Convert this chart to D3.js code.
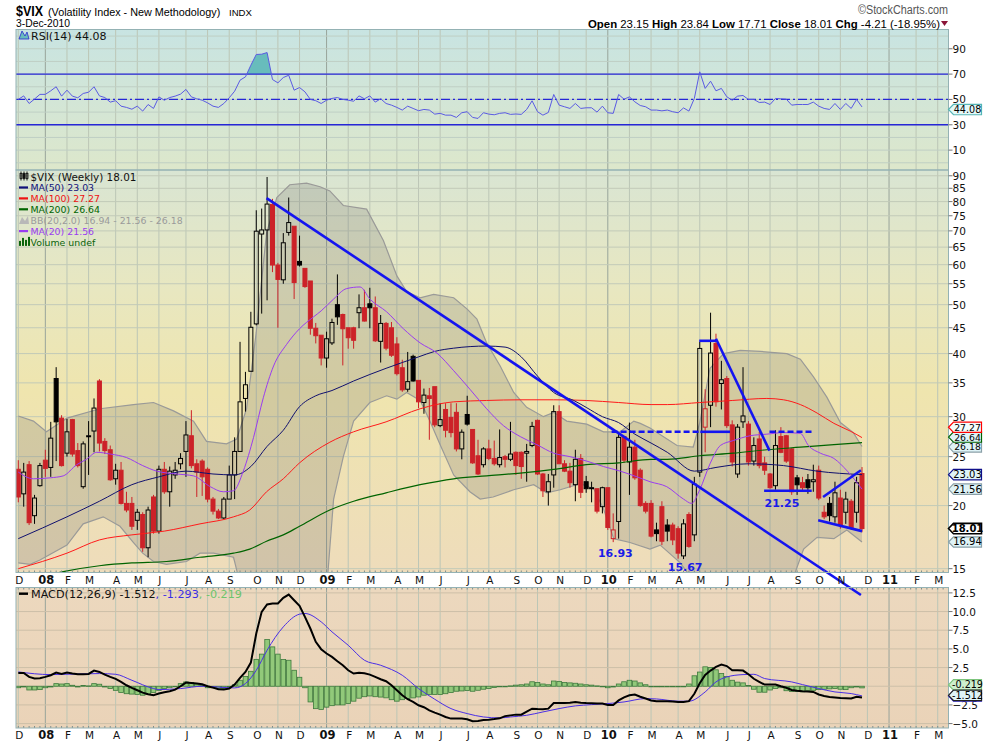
<!DOCTYPE html>
<html>
<head>
<meta charset="utf-8">
<script src="https://cdn.jsdelivr.net/npm/d3@7"></script>
<style>
  body { margin: 0; background: #fff; }
  svg text { font-family: "DejaVu Sans", Verdana, sans-serif; }
</style>
</head>
<body>
<svg id="chart" width="990" height="744"></svg>
<script>
// weekly $VIX bars, week of 3-Dec-2007 .. week of 29-Nov-2010 : [open, high, low, close]
const ohlc = [
  [23.6,24.6,20.3,20.8],[21.1,24.3,19.9,23.3],[24.1,24.5,18.3,18.5],[19.1,21.0,18.4,20.7],[21.9,24.3,21.8,24.0],
  [24.6,25.8,22.8,23.7],[23.8,29.3,22.8,27.2],[35.7,37.6,24.5,29.3],[29.8,30.2,23.9,24.0],[25.4,29.7,25.0,28.0],
  [29.6,29.7,25.0,25.3],[25.7,26.6,23.8,24.0],[21.8,26.8,21.6,26.5],[27.4,29.4,23.0,27.5],[28.1,32.6,25.5,31.2],
  [35.3,35.6,25.6,26.6],[26.8,27.2,25.3,25.7],[25.8,26.3,22.4,22.5],[22.6,24.2,22.0,23.5],[23.5,24.4,20.1,20.2],
  [20.2,21.3,19.4,19.6],[20.2,20.8,17.9,18.2],[18.7,19.7,17.9,19.4],[19.2,19.4,16.2,16.5],[16.5,19.9,15.8,19.6],
  [20.8,21.0,17.6,17.8],[17.8,24.0,17.6,23.6],[23.6,24.4,21.1,21.3],[21.3,23.9,19.9,23.4],[23.0,24.4,22.6,23.5],
  [24.2,25.4,23.6,24.8],[25.6,29.4,22.8,27.6],[27.5,30.9,23.7,24.0],[24.2,24.7,20.8,23.3],[24.5,24.7,20.9,22.8],
  [23.6,23.8,20.3,20.6],[20.6,20.8,19.2,19.5],[19.5,19.7,18.8,18.9],[18.9,20.8,18.8,20.6],[20.6,24.0,20.6,23.0],
  [23.0,27.3,20.6,25.6],[25.6,42.2,25.6,32.1],[32.6,36.8,30.7,34.7],[36.9,48.4,36.9,45.1],[45.8,76.9,45.5,69.9],
  [69.0,77.5,48.0,70.3],[70.3,89.5,51.0,79.1],[79.0,81.0,58.0,59.9],[59.9,60.5,45.0,56.1],[56.0,69.3,55.0,66.3],
  [69.5,81.5,68.5,72.7],[71.5,71.5,51.3,55.3],[60.9,68.5,59.5,59.9],[59.0,59.0,54.0,54.3],[55.7,55.7,43.6,44.9],
  [44.9,46.0,41.9,43.4],[43.5,43.5,37.9,39.2],[39.2,44.2,37.5,42.8],[42.0,46.9,41.6,46.1],[50.0,57.4,45.6,47.3],
  [47.8,48.0,37.9,44.8],[45.0,45.0,40.9,43.0],[45.0,45.2,40.9,42.5],[48.2,52.4,44.9,49.3],[49.3,53.5,46.3,46.4],
  [50.2,54.0,44.9,49.3],[49.3,51.9,42.2,42.4],[42.3,47.7,38.4,45.9],[45.9,46.2,40.6,41.0],[45.0,46.2,39.4,39.7],
  [41.8,43.1,36.2,36.5],[37.5,38.9,33.6,33.9],[34.0,40.3,33.6,35.2],[39.5,39.8,35.2,35.3],[35.4,35.4,31.2,32.1],
  [32.0,34.1,30.4,33.1],[33.0,34.2,27.0,32.6],[34.4,34.4,28.6,28.9],[28.8,31.9,28.6,29.6],[31.0,31.9,27.3,28.2],
  [29.9,31.9,27.3,27.9],[30.6,31.9,25.6,25.9],[25.9,28.3,24.7,27.95],[30.3,33.0,28.8,29.0],[28.3,28.3,24.2,24.3],
  [25.1,27.0,23.0,23.1],[24.1,26.1,23.8,25.9],[25.9,27.0,24.6,24.8],[24.8,26.9,24.0,24.2],[24.1,28.3,23.8,24.9],
  [25.0,25.2,23.8,24.7],[24.7,29.3,24.5,25.3],[25.5,25.6,23.0,24.0],[25.5,25.6,22.6,23.9],[25.4,26.5,22.3,25.6],
  [26.3,29.3,26.1,28.7],[29.5,29.6,23.0,23.1],[23.1,23.2,20.8,21.4],[21.3,23.1,20.0,22.3],[23.0,31.6,21.7,30.7],
  [30.7,31.6,24.2,24.2],[24.2,24.6,23.3,23.4],[23.4,24.3,21.7,22.2],[22.0,25.8,20.4,24.7],[24.8,25.3,20.7,21.25],
  [22.3,22.9,21.2,21.6],[21.6,22.3,20.3,21.7],[21.6,21.6,19.3,19.5],[19.9,21.8,19.3,21.7],[21.7,21.7,17.9,18.1],
  [17.2,19.3,16.93,17.9],[18.6,27.9,17.2,27.3],[27.4,27.4,24.3,24.6],[24.4,29.2,21.0,26.1],[26.1,27.0,22.5,22.7],
  [23.5,23.7,19.9,20.0],[20.2,20.4,19.3,19.5],[20.2,20.5,17.3,17.4],[17.9,18.5,17.0,17.6],[19.9,20.4,16.7,17.0],
  [18.3,18.8,17.0,17.8],[18.3,18.5,16.7,17.1],[18.0,18.2,15.7,16.1],[15.9,18.8,15.67,18.4],[19.2,19.4,16.5,16.6],
  [17.5,22.8,17.0,22.05],[23.3,42.2,22.8,40.95],[28.6,34.0,25.5,31.1],[31.6,48.2,28.6,40.1],[41.9,43.8,31.4,32.1],
  [34.9,38.7,31.0,35.5],[35.7,36.1,28.5,28.8],[28.9,29.5,23.9,24.4],[23.1,29.0,22.7,28.6],[29.3,37.6,28.5,30.1],
  [29.0,29.4,24.0,24.4],[24.5,27.3,24.0,26.3],[27.1,28.0,23.7,24.0],[24.3,25.0,23.0,23.5],[23.1,23.2,21.6,21.7],
  [21.9,28.2,21.5,26.3],[27.4,28.6,25.4,25.5],[27.5,27.6,24.3,24.5],[25.9,26.0,21.0,21.3],[22.7,23.0,21.0,21.99],
  [22.2,22.8,21.3,21.7],[22.5,23.1,21.1,21.7],[22.3,24.1,21.3,22.5],[23.5,24.0,20.5,20.7],[19.4,20.0,18.8,19.0],
  [20.2,20.8,18.6,19.1],[19.0,22.3,18.5,21.2],[20.7,21.5,18.0,18.3],[19.4,21.3,18.4,20.6],[20.4,20.6,17.9,18.04],
  [19.4,22.8,18.5,22.2],[23.15,23.84,17.71,18.01]
];

// overlays: [week index, value]
const ma20 = [[0,23.3],[2.8,22.6],[5.9,22.7],[8.3,22.9],[10.8,24.1],[12.6,24.7],[14.5,25.5],[17,25.3],[20,24.9],[23,24.0],[25.6,23.4],[29.3,23.1],[32.4,22.9],[35.5,21.8],[37.9,21.3],[39.8,21.4],[41.6,23.4],[43.5,27.3],[45.3,32.7],[47.2,37.8],[49.6,41.7],[52,44.8],[54.6,47.3],[56,48.6],[58.3,51.3],[60.7,53.8],[63.2,54.2],[65,51.3],[68.1,48.4],[71.2,44.8],[74.3,42.0],[77.4,40.1],[80.5,37.0],[83.5,34.0],[86.6,31.1],[89.7,28.8],[92.8,27.4],[95.9,26.4],[99,25.4],[102,25.0],[105.1,24.5],[108.2,23.9],[111.3,23.4],[114.4,22.8],[116.8,22.3],[119.9,21.8],[123,20.6],[124.5,20.2],[126,21.5],[127.9,24.2],[129.8,26.3],[132.2,26.9],[135.3,27.5],[138.4,27.7],[141.5,27.9],[144.6,27.8],[146.1,26.3],[148.3,25.4],[150.8,24.8],[153.3,23.4],[156,21.56]];
const ma50 = [[0,17.2],[9,19.0],[15,20.4],[21,22.0],[26,22.8],[31,23.4],[36,23.1],[40,23.0],[43,23.9],[46,26.2],[49,28.2],[52,31.4],[55,33.0],[58,33.8],[62,35.3],[68,37.4],[74,39.4],[77,40.4],[80.5,41.0],[86.6,41.4],[90,41.2],[93,39.4],[96,36.1],[99,33.5],[102.7,32.3],[105,31.3],[108,30.0],[111,29.2],[114,27.7],[117,26.6],[120,25.5],[125,23.4],[129,23.8],[135,24.2],[141.5,24.0],[147.7,23.4],[156,23.03]];
const ma100 = [[0,15.0],[9,16.1],[15,17.1],[21,17.5],[27,17.8],[33.6,18.4],[39.8,19.0],[42.8,19.6],[45.9,21.3],[49,22.6],[52,24.3],[57.6,26.7],[62,28.0],[68,29.3],[74.3,31.1],[80.5,32.1],[86.6,32.3],[92.8,32.4],[99,32.4],[105,32.3],[111,32.0],[117,31.7],[120,31.7],[126,32.0],[132,32.3],[138.4,32.6],[141.5,32.4],[144.6,31.7],[147.7,30.5],[150.8,29.1],[153.8,28.1],[156,27.27]];
const ma200 = [[0,14.1],[8.3,14.8],[15,15.2],[21,15.4],[27.4,15.5],[33.6,15.8],[39.8,16.1],[42.8,16.4],[45.9,17.0],[49,17.5],[52,18.2],[57.6,19.6],[62,20.4],[68,21.2],[74.3,22.0],[80.5,22.6],[86.6,22.9],[92.8,23.2],[99,23.6],[105,24.1],[111,24.3],[117,24.7],[120,24.7],[126,25.1],[132.2,25.4],[138.4,25.8],[144.6,26.1],[150.8,26.4],[156,26.64]];
const bbUpper = [[0,30.1],[2.8,29.4],[5.2,28.0],[9,29.8],[15.1,31.1],[21.3,31.7],[25,32.0],[28.7,30.8],[32.4,29.4],[34.8,26.8],[38.5,26.5],[40.4,27.1],[42.2,31.1],[44,44.1],[45.9,69.3],[47.8,81.5],[50.2,86.4],[53.3,87.0],[55.8,85.6],[57.6,84.0],[60.1,78.6],[64.4,77.3],[67.5,67.0],[70,57.0],[71.8,53.1],[74.3,51.6],[76.8,52.4],[80.5,51.6],[83,49.0],[84.8,46.8],[86.6,42.0],[89.1,37.8],[91.6,33.5],[94,31.3],[97.1,30.0],[99,30.6],[101.4,29.4],[105.1,29.0],[108.2,28.0],[111.3,28.0],[113.8,29.4],[115,29.1],[116.8,28.5],[121.8,26.3],[124.8,26.1],[126,29.2],[127.9,37.4],[130.4,40.0],[133.5,40.6],[137.2,40.4],[142.1,40.0],[144.6,39.0],[147,36.0],[149.5,32.8],[152,29.2],[154.4,27.9],[156,26.18]];
const bbLower = [[0,15.4],[2.2,15.3],[4,15.6],[9,16.7],[12,18.4],[15.7,19.0],[18.8,18.2],[21.3,16.9],[23,16.1],[25,15.5],[27.4,15.3],[31.1,15.5],[33.6,16.1],[36.1,16.1],[39.8,15.8],[41,14.0],[42,10],[56.5,10],[57.2,14.5],[58.3,20.6],[60.1,25.0],[62,29.4],[65,32.0],[68.1,33.0],[70,32.5],[71.8,33.5],[74.3,32.3],[76.1,29.4],[78,26.4],[80.5,23.0],[83.5,21.3],[85.4,20.6],[87.8,20.8],[91.6,21.5],[95.3,22.0],[97.7,21.2],[100.2,21.5],[103.9,22.1],[106.4,21.6],[108.2,19.7],[110.1,17.2],[113.1,16.9],[116.8,16.4],[118.7,16.7],[122.4,15.4],[124.2,14.5],[125,10],[142,10],[143.3,14.4],[145.2,16.4],[147.7,17.3],[150.8,17.2],[153.2,17.9],[156,16.94]];

// RSI(14), one value per week
const rsi = [
  50,52.8,46.8,50.3,54,54,56.8,60,52.6,57.3, 52.6,51.3,54.7,55.7,60,52.8,51.5,47.9,49,44.7,
  43.7,42.3,44.7,40.8,46,42.9,52,49.4,51.5,52.6, 54.2,57.9,52,50.5,49.4,47.3,44.7,43.7,46.8,51.3,
  56.5,65.2,67.8,77,85.5,85.7,87,65.7,63.1,67.3, 69.1,57.3,59.4,56,50,49,46.8,49.4,50.8,51.5,
  50,49.4,48.6,52.8,50.5,52.8,47.9,50.5,46.8,45.5, 43.7,41.6,44.7,42.9,41.1,42.1,41.6,38.4,39,37.6,
  37.6,35.8,39.5,40.3,35.8,35,39.5,38.4,37.9,39, 39.5,38.2,38.5,38.2,42.1,48.9,40.3,37.6,39.7,53.9,
  45.5,44.2,42.9,46.8,42.9,43.4,43.4,40,44.7,39.5, 39,53.9,50.2,52,48.1,45.2,44.2,41.6,41.6,41,
  41.6,40.3,39.5,43.3,40.8,50.8,71.8,58.7,64.4,56.8, 58.7,52.1,49.4,52.6,53.1,50,50,47.6,47.9,46,
  50.8,50.5,50.2,45.5,46,46,46,47.9,44.7,42.9, 42.1,46.8,42.1,46.8,42.9,50,44.08
];

// MACD(12,26,9) line, one value per week
const macd = [
  1.79,1.79,1.25,1.03,1.07,1.25,1.47,1.83,1.65,1.83, 1.7,1.6,1.61,1.65,2.1,1.92,1.56,1.25,0.98,0.58,
  0.13,-0.22,-0.54,-0.85,-1.07,-1.21,-0.98,-0.8,-0.67,-0.45, 0,0.49,0.45,0.36,0.27,0,-0.18,-0.4,-0.45,-0.31,
  0.22,1.12,1.92,3.17,7.06,9.96,10.94,11.08,11.08,11.84, 12.28,11.52,10.76,9.29,7.73,5.94,4.96,4.38,3.93,3.35,
  2.81,2.14,1.7,1.79,1.74,1.56,1.25,0.94,0.67,0.13, -0.54,-1.21,-1.74,-2.1,-2.55,-2.81,-3.22,-3.53,-3.8,-4.11,
  -4.33,-4.33,-4.33,-4.42,-4.69,-4.64,-4.51,-4.47,-4.4,-4.3, -4.0,-3.9,-3.8,-3.8,-3.4,-3.0,-3.05,-3.08,-3.0,-2.25,
  -2.23,-2.23,-2.2,-2.1,-2.2,-2.25,-2.28,-2.3,-2.3,-2.5, -2.5,-1.9,-1.5,-1.2,-1.1,-1.4,-1.65,-1.9,-2.0,-2.0,
  -2.0,-2.05,-2.1,-2.1,-2.0,-1.0,0.4,1.5,2.1,2.6, 2.9,2.7,2.15,2.15,2.1,1.6,1.0,0.6,0.22,0.22,
  0.22,0,-0.2,-0.5,-0.6,-0.67,-0.7,-0.76,-1.1,-1.3, -1.43,-1.5,-1.56,-1.6,-1.65,-1.4,-1.512
];
// signal line, read as [week index, value]
const macdSignal = [[0,1.92],[6,1.56],[15,1.7],[18,1.6],[21,0.8],[25,-0.31],[26,-0.45],[30,-0.31],[34,0],[40,-0.22],[42,0.36],[44,2.14],[46,4.82],[49,7.95],[52,9.65],[53,9.74],[56,8.62],[58,7.28],[61,5.49],[64,3.48],[67,2.81],[71,1.47],[74,-0.31],[77,-1.74],[80,-2.99],[83,-3.66],[86,-4.11],[89,-4.24],[91,-4.11],[94,-3.89],[97,-3.44],[100,-2.99],[103,-2.63],[106,-2.46],[109,-2.32],[112,-2.1],[116,-1.65],[118,-1.7],[122,-2.0],[124,-2.0],[127,-0.76],[129,0.58],[131,1.25],[134,1.56],[136,1.6],[138,1.03],[143,0.58],[145,0.22],[148,-0.31],[151,-0.76],[154,-0.98],[156,-1.293]];
// histogram, one value per week
const macdHist = [
  -0.2,-0.1,-0.5,-0.5,-0.45,-0.2,-0.1,0.35,0.3,0.35, 0.13,-0.1,0.1,0.05,0.35,0.27,-0.1,-0.3,-0.55,-0.85,
  -1.0,-1.05,-1.1,-1.2,-1.1,-0.85,-0.55,-0.3,-0.2,0, 0.35,0.58,0.5,0.3,0.13,-0.2,-0.2,-0.3,-0.3,-0.1,
  0.2,0.8,1.3,2.0,3.6,4.3,6.25,5.27,4.3,3.57, 3.48,2.14,1.2,-0.2,-2.1,-3.0,-3.1,-2.8,-2.6,-2.5,
  -2.5,-2.3,-2.0,-1.6,-1.4,-1.3,-1.4,-1.45,-1.55,-1.8, -2.0,-1.8,-1.65,-1.56,-1.43,-1.2,-1.1,-1.1,-1.1,-1.0,
  -0.85,-0.67,-0.63,-0.58,-0.67,-0.54,-0.4,-0.31,-0.18,0, -0.05,0.05,0.15,0.2,0.3,0.6,0.5,0.3,0.2,0.7,
  0.65,0.5,0.45,0.4,0.3,0.2,0.15,0.05,0,-0.2, -0.1,0.3,0.6,0.8,0.7,0.45,0.2,0,-0.05,-0.05,
  0,-0.05,-0.05,-0.05,0.3,1.4,1.9,2.6,2.5,2.2, 1.7,1.3,0.8,0.55,0.45,0.1,-0.4,-0.8,-0.8,-0.5,
  -0.3,-0.2,-0.6,-0.7,-0.7,-0.75,-0.6,-0.55,-0.45,-0.4, -0.35,-0.3,-0.4,-0.45,-0.2,-0.1,-0.219
];

// hand-drawn annotations: [week index, price]
const trendLines = [
  { pts: [[45.9, 81.3], [155.8, 13.3]], dash: false },
  { pts: [[109.7, 28.0], [126.1, 28.0]], dash: true },
  { pts: [[126.1, 28.0], [131.6, 28.0]], dash: false },
  { pts: [[125.9, 42.4], [129, 42.4]], dash: false },
  { pts: [[129, 42.8], [138.9, 25.7]], dash: false },
  { pts: [[138.9, 28.0], [146.7, 28.0]], dash: true },
  { pts: [[137.9, 21.4], [146.7, 21.4]], dash: false },
  { pts: [[148.8, 20.8], [155.8, 23.5]], dash: false },
  { pts: [[147.9, 18.7], [156, 17.8]], dash: false }
];
const notes = [
  { i: 110.4, v: 16.93, text: '16.93', dy: 15 },
  { i: 123.3, v: 15.67, text: '15.67', dy: 12 },
  { i: 141.2, v: 21.25, text: '21.25', dy: 15 }
];

const monthLabels = ['D','08','F','M','A','M','J','J','A','S','O','N',
  'D','09','F','M','A','M','J','J','A','S','O','N',
  'D','10','F','M','A','M','J','J','A','S','O','N',
  'D','11','F','M'];
const priceTicks = [15,20,25,30,35,40,45,50,55,60,65,70,75,80,85,90];
const rsiTicks = [10,30,50,70,90];
const macdTicks = [-5,-2.5,2.5,5,7.5,10,12.5];

// ---------------------------------------------------------------
const svg = d3.select('#chart');
const defs = svg.append('defs');
const red = '#cc2228';

const L = 16, R = 948.5;
const rsiTop = 29.5, mainTop = 170, mainBot = 572.5, macdTop = 587.5, macdBot = 728;

const xs = d3.scaleLinear().domain([0, 156]).range([18.3, 862]);
const yP = d3.scaleLog().domain([14.74, 92.4]).range([mainBot, mainTop]);
const yR = d3.scaleLinear().domain([-5.7, 105.2]).range([mainTop, rsiTop]);
const yM = d3.scaleLinear().domain([-5.59, 13.22]).range([macdBot, macdTop]);

function grad(id, stops) {
  const g = defs.append('linearGradient').attr('id', id)
    .attr('x1', 0).attr('y1', 0).attr('x2', 0).attr('y2', 1);
  stops.forEach(s => g.append('stop').attr('offset', s[0]).attr('stop-color', s[1]));
}
grad('gRsi', [[0, '#c8e4e2'], [1, '#dde7cb']]);
grad('gMain', [[0, '#d9e5d3'], [0.3, '#e8e7c0'], [0.55, '#efe5ae'], [1, '#eedcbb']]);
grad('gMacd', [[0, '#ecd8be'], [1, '#ead3b8']]);

function clip(id, y0, y1) {
  defs.append('clipPath').attr('id', id).append('rect')
    .attr('x', L).attr('y', y0).attr('width', R - L).attr('height', y1 - y0);
}
clip('cRsi', rsiTop, mainTop);
clip('cMain', mainTop, mainBot);
clip('cMacd', macdTop, macdBot);
clip('cRsiHi', rsiTop, yR(70));

// panel backgrounds
svg.append('rect').attr('x', L).attr('y', rsiTop).attr('width', R - L).attr('height', mainTop - rsiTop).attr('fill', 'url(#gRsi)');
svg.append('rect').attr('x', L).attr('y', mainTop).attr('width', R - L).attr('height', mainBot - mainTop).attr('fill', 'url(#gMain)');
svg.append('rect').attr('x', L).attr('y', macdTop).attr('width', R - L).attr('height', macdBot - macdTop).attr('fill', 'url(#gMacd)');

// month ticks: first weekly bar whose Monday falls in the month
const startMonday = new Date(2007, 11, 3);
const monthTicks = monthLabels.map((lab, k) => {
  const first = new Date(2007, 11 + k, 1);
  const mon = d3.timeMonday.ceil(first);
  const idx = Math.round((mon - startMonday) / (7 * 864e5));
  return { idx, lab, year: first.getMonth() === 0 };
});

// grid
const grid = svg.append('g');
monthTicks.forEach(t => {
  const x = xs(t.idx);
  [[rsiTop, mainTop], [mainTop, mainBot], [macdTop, macdBot]].forEach(([a, b]) => {
    grid.append('line').attr('x1', x).attr('x2', x).attr('y1', a).attr('y2', b)
      .attr('stroke', t.year ? '#98a49a' : '#bcc6b6').attr('stroke-width', 1);
  });
});
priceTicks.forEach(v => grid.append('line').attr('x1', L).attr('x2', R).attr('y1', yP(v)).attr('y2', yP(v)).attr('stroke', '#c2cab8'));
d3.range(0, 101, 10).forEach(v => grid.append('line').attr('x1', L).attr('x2', R).attr('y1', yR(v)).attr('y2', yR(v)).attr('stroke', '#bfcfc4'));
d3.range(-5, 13, 2.5).forEach(v => grid.append('line').attr('x1', L).attr('x2', R).attr('y1', yM(v)).attr('y2', yM(v)).attr('stroke', '#cdbfa8'));

// ---------------- RSI panel
const rsiG = svg.append('g').attr('clip-path', 'url(#cRsi)');
rsiG.append('path').datum(rsi).attr('clip-path', 'url(#cRsiHi)')
  .attr('d', d3.area().x((d, i) => xs(i)).y0(yR(70)).y1(d => yR(d)))
  .attr('fill', '#68bcbc');
[70, 30].forEach(v => rsiG.append('line').attr('x1', L).attr('x2', R).attr('y1', yR(v)).attr('y2', yR(v))
  .attr('stroke', '#2626d6').attr('stroke-width', 1.3));
rsiG.append('line').attr('x1', L).attr('x2', R).attr('y1', yR(50)).attr('y2', yR(50))
  .attr('stroke', '#2626d6').attr('stroke-width', 1.2).attr('stroke-dasharray', '9,3,2,3');
rsiG.append('path').datum(rsi).attr('d', d3.line().x((d, i) => xs(i)).y(d => yR(d)))
  .attr('fill', 'none').attr('stroke', '#5a5ae2').attr('stroke-width', 1);

// ---------------- price panel
const mainG = svg.append('g').attr('clip-path', 'url(#cMain)');
const lineK = d3.line().x(d => xs(d[0])).y(d => yP(d[1])).curve(d3.curveMonotoneX);

// Bollinger band fill
const bandPts = d3.range(0, 156.01, 0.5);
const interp = arr => i => {
  let k = 0;
  while (k < arr.length - 2 && arr[k + 1][0] < i) k++;
  const a = arr[k], b = arr[k + 1];
  const t = Math.max(0, Math.min(1, (i - a[0]) / (b[0] - a[0])));
  return a[1] + (b[1] - a[1]) * t;
};
const upF = interp(bbUpper), loF = interp(bbLower);
mainG.append('path').datum(bandPts)
  .attr('d', d3.area().x(i => xs(i)).y0(i => yP(loF(i))).y1(i => yP(upF(i))))
  .attr('fill', 'rgba(110,110,110,0.22)');
[bbUpper, bbLower].forEach(arr => mainG.append('path').datum(arr).attr('d', d3.line().x(d => xs(d[0])).y(d => yP(d[1])))
  .attr('fill', 'none').attr('stroke', '#9a9a98').attr('stroke-width', 1.2));

// candles
const cg = mainG.append('g');
ohlc.forEach((d, i) => {
  const [o, h, l, c] = d;
  const prev = i > 0 ? ohlc[i - 1][3] : o;
  const col = c >= prev ? '#000' : red;
  const hollow = c >= o;
  const x = xs(i);
  const top = yP(Math.max(o, c)), bot = yP(Math.min(o, c));
  cg.append('line').attr('x1', x).attr('x2', x).attr('y1', yP(h)).attr('y2', top).attr('stroke', col).attr('stroke-width', 1);
  cg.append('line').attr('x1', x).attr('x2', x).attr('y1', bot).attr('y2', yP(l)).attr('stroke', col).attr('stroke-width', 1);
  cg.append('rect').attr('x', x - 2).attr('y', top).attr('width', 4).attr('height', Math.max(1, bot - top))
    .attr('fill', hollow ? 'none' : col).attr('stroke', col).attr('stroke-width', 1);
});

// moving averages
[[ma200, '#006400', 1.2], [ma100, '#ff1a1a', 1], [ma50, '#10106e', 1], [ma20, '#9a3cf0', 1]].forEach(([arr, col, w]) => {
  mainG.append('path').datum(arr).attr('d', lineK).attr('fill', 'none').attr('stroke', col).attr('stroke-width', w);
});

// trend lines (not clipped: the long one runs into the axis row)
const tl = svg.append('g');
trendLines.forEach(t => {
  tl.append('line')
    .attr('x1', xs(t.pts[0][0])).attr('y1', yP(t.pts[0][1]))
    .attr('x2', xs(t.pts[1][0])).attr('y2', yP(t.pts[1][1]))
    .attr('stroke', '#1414f0').attr('stroke-width', 2.6)
    .attr('stroke-dasharray', t.dash ? '6,3' : null);
});
notes.forEach(n => tl.append('text').attr('x', xs(n.i)).attr('y', yP(n.v) + n.dy)
  .attr('text-anchor', 'middle').attr('font-size', 11).attr('font-weight', 'bold').attr('fill', '#1a1ae8').text(n.text));

// ---------------- MACD panel
const macdG = svg.append('g').attr('clip-path', 'url(#cMacd)');
macdG.selectAll('rect.h').data(macdHist).enter().append('rect')
  .attr('x', (d, i) => xs(i) - 2.3).attr('width', 4.6)
  .attr('y', d => yM(Math.max(0, d))).attr('height', d => Math.max(0.6, Math.abs(yM(d) - yM(0))))
  .attr('fill', '#92c97a').attr('stroke', '#3d7a3d').attr('stroke-width', 0.8);
macdG.append('path').datum(macdSignal).attr('d', d3.line().x(d => xs(d[0])).y(d => yM(d[1])).curve(d3.curveMonotoneX))
  .attr('fill', 'none').attr('stroke', '#4a2ee6').attr('stroke-width', 1);
macdG.append('path').datum(macd).attr('d', d3.line().x((d, i) => xs(i)).y(d => yM(d)))
  .attr('fill', 'none').attr('stroke', '#000').attr('stroke-width', 2);

// weekly tick dots along panel edges
const wk = svg.append('g');
d3.range(0, 181).forEach(i => {
  const x = xs(i);
  if (x < L || x > R) return;
  wk.append('line').attr('x1', x).attr('x2', x).attr('y1', mainBot - 2).attr('y2', mainBot).attr('stroke', '#7d8c8c');
  wk.append('line').attr('x1', x).attr('x2', x).attr('y1', macdTop).attr('y2', macdTop + 2).attr('stroke', '#7d8c8c');
  wk.append('line').attr('x1', x).attr('x2', x).attr('y1', macdBot - 2).attr('y2', macdBot).attr('stroke', '#7d8c8c');
});

// panel borders
[[rsiTop, mainTop], [mainTop, mainBot], [macdTop, macdBot]].forEach(([a, b]) => {
  svg.append('rect').attr('x', L).attr('y', a).attr('width', R - L).attr('height', b - a)
    .attr('fill', 'none').attr('stroke', '#94b2b4').attr('stroke-width', 1);
});

// x axis rows
[584, 739].forEach(yb => {
  monthTicks.forEach(t => {
    const x = xs(t.idx) + 1;
    if (x > R + 2) return;
    svg.append('text').attr('x', x).attr('y', yb).attr('text-anchor', 'middle')
      .attr('font-size', t.year ? 11.5 : 10.5).attr('font-weight', t.year ? 'bold' : 'normal')
      .attr('fill', '#111').text(t.lab);
  });
});

// right axes
const ax = svg.append('g').attr('font-size', 10.5).attr('fill', '#111');
function rightAxis(ticks, scale, fmt) {
  ticks.forEach(v => {
    ax.append('line').attr('x1', R).attr('x2', R + 4).attr('y1', scale(v)).attr('y2', scale(v)).attr('stroke', '#777');
    ax.append('text').attr('x', R + 4).attr('y', scale(v) + 4).text(fmt(v));
  });
}
rightAxis(priceTicks, yP, d => d);
rightAxis(rsiTicks, yR, d => d);
rightAxis(macdTicks, yM, d3.format('.1f'));

// value tags on the right axis
function tag(y, text, stroke, fill, bold, fs) {
  const g = svg.append('g');
  g.append('path').attr('d', `M${R},${y} L${R + 5},${y - 5.2} L${R + 33},${y - 5.2} L${R + 33},${y + 5.2} L${R + 5},${y + 5.2} Z`)
    .attr('fill', fill).attr('stroke', stroke).attr('stroke-width', bold ? 1.6 : 1.2);
  if (text) g.append('text').attr('x', R + 19).attr('y', y + 3.5).attr('text-anchor', 'middle')
    .attr('font-size', fs || 10).attr('font-weight', bold ? 'bold' : 'normal').attr('fill', '#000').text(text);
}
const last = ohlc[ohlc.length - 1];
tag(yR(rsi[rsi.length - 1]) + 2.6, '44.08', '#55b5b5', '#e4f8f8', false, 9.6);

// the three close values near 26-27 are spread over the room between the 30 and 25 labels
const closeTags = [
  { v: 26.18, t: '26.18', s: '#8aa0a8', f: '#dff3f7' },
  { v: 26.64, t: '26.64', s: '#006400', f: '#dff3f7' },
  { v: 27.27, t: '27.27', s: '#ff0000', f: '#f4fbfb' }
];
const slotTop = yP(30) + 10.6, slotBot = yP(25) - 9.8;
closeTags.forEach((d, k) => tag(slotBot - k * (slotBot - slotTop) / 2, d.t, d.s, d.f, false, 9.3));
tag(yP(16.94), '16.94', '#8aa0a8', '#dff3f7');
tag(yP(21.56), '21.56', '#8aa0a8', '#dff3f7');
tag(yP(23.03), '23.03', '#10108a', '#dff3f7');
tag(yP(last[3]), '18.01', '#000', '#ffffff', true);

// MACD tags: the signal tag sits under the others, as in the source
tag(yM(-1.293), '', '#3a2ee6', '#dff3f7');
tag(yM(-0.219) - 3, '-0.219', '#7cc47c', '#cdeecd', false, 9.6);
tag(yM(macd[macd.length - 1]) - 2.2, '-1.512', '#222', '#dff3f7', false, 9.6);

// legends
const lg = svg.append('g').attr('font-size', 10.5);
// RSI legend
lg.append('path').attr('d', 'M19,39 L22,31 L25,36 L27,32 L29,39 Z').attr('fill', '#68bcbc').attr('stroke', '#2a2ad0').attr('stroke-width', 0.8);
lg.append('text').attr('x', 31).attr('y', 40).attr('font-size', 11).attr('fill', '#111').text('RSI(14) 44.08');

// price legend
const legRows = [
  { t: '$VIX (Weekly) 18.01', c: '#111', icon: 'candle', fs: 10.4 },
  { t: 'MA(50) 23.03', c: '#10107a', icon: 'line', fs: 9.4 },
  { t: 'MA(100) 27.27', c: '#ee1111', icon: 'line', fs: 9.4 },
  { t: 'MA(200) 26.64', c: '#006400', icon: 'line', fs: 9.4 },
  { t: 'BB(20,2.0) 16.94 - 21.56 - 26.18', c: '#9a9a9a', icon: 'band', fs: 9.4 },
  { t: 'MA(20) 21.56', c: '#9a3cf0', icon: 'line', fs: 9.4 },
  { t: 'Volume undef', c: '#0b640b', icon: 'bars', fs: 9.4 }
];
legRows.forEach((r, k) => {
  const yb = 180.5 + k * 10.9;
  if (r.icon === 'line') lg.append('rect').attr('x', 19).attr('y', yb - 5).attr('width', 9).attr('height', 2.2).attr('fill', r.c);
  if (r.icon === 'candle') {
    [[20, 'none'], [23, '#111'], [26, 'none']].forEach(([x, f]) => {
      lg.append('line').attr('x1', x + 1).attr('x2', x + 1).attr('y1', yb - 9).attr('y2', yb).attr('stroke', '#111');
      lg.append('rect').attr('x', x).attr('y', yb - 7).attr('width', 2).attr('height', 5).attr('fill', f).attr('stroke', '#111').attr('stroke-width', 0.8);
    });
  }
  if (r.icon === 'band') lg.append('path').attr('d', `M19,${yb} L22,${yb - 7} L25,${yb - 3} L28,${yb - 8} L29,${yb} Z`).attr('fill', '#b8b8b8');
  if (r.icon === 'bars') [[19, 5], [22, 8], [25, 6], [28, 9]].forEach(([x, h]) =>
    lg.append('rect').attr('x', x).attr('y', yb - h).attr('width', 2).attr('height', h).attr('fill', r.c));
  lg.append('text').attr('x', 30.5).attr('y', yb).attr('font-size', r.fs).attr('fill', r.c).text(r.t);
});

// MACD legend
lg.append('rect').attr('x', 19).attr('y', 592.5).attr('width', 9).attr('height', 2.4).attr('fill', '#000');
const mt = lg.append('text').attr('x', 31).attr('y', 598).attr('font-size', 11.2);
mt.append('tspan').attr('fill', '#111').text('MACD(12,26,9) -1.512');
mt.append('tspan').attr('fill', '#3a2ee6').text(', -1.293');
mt.append('tspan').attr('fill', '#6cc46c').text(', -0.219');

// header
const hdFont = '"Liberation Sans", Arial, sans-serif';
const fit = 'spacingAndGlyphs';
const hd = svg.append('g');
hd.append('text').attr('x', 16).attr('y', 15.5).attr('font-size', 14).attr('font-weight', 'bold')
  .attr('textLength', 27).attr('lengthAdjust', fit).style('font-family', hdFont).text('$VIX');
hd.append('text').attr('x', 48).attr('y', 15.5).attr('font-size', 10.8)
  .style('font-family', hdFont).text('(Volatility Index - New Methodology)');
hd.append('text').attr('x', 229).attr('y', 15.5).attr('font-size', 9.6)
  .style('font-family', hdFont).text('INDX');
hd.append('text').attr('x', 16).attr('y', 27).attr('font-size', 10.5)
  .attr('textLength', 54).attr('lengthAdjust', fit).style('font-family', hdFont).text('3-Dec-2010');
hd.append('text').attr('x', 858).attr('y', 14).attr('font-size', 12).attr('fill', '#555')
  .attr('textLength', 90).attr('lengthAdjust', fit).style('font-family', hdFont).text('\u00a9StockCharts.com');
const q = hd.append('text').attr('x', 588).attr('y', 27.5).attr('font-size', 11.4)
  .attr('textLength', 352).attr('lengthAdjust', fit).style('font-family', hdFont).attr('fill', '#000');
[['Open', last[0].toFixed(2)], ['High', last[1].toFixed(2)], ['Low', last[2].toFixed(2)], ['Close', last[3].toFixed(2)]].forEach(([k, v]) => {
  q.append('tspan').attr('font-weight', 'bold').text(k + ' ');
  q.append('tspan').text(v + '  ');
});
q.append('tspan').attr('font-weight', 'bold').text('Chg ');
q.append('tspan').text('-4.21 (-18.95%)');
hd.append('path').attr('d', 'M941,21 L948,21 L944.5,26 Z').attr('fill', '#8b1538');
</script>
</body>
</html>
